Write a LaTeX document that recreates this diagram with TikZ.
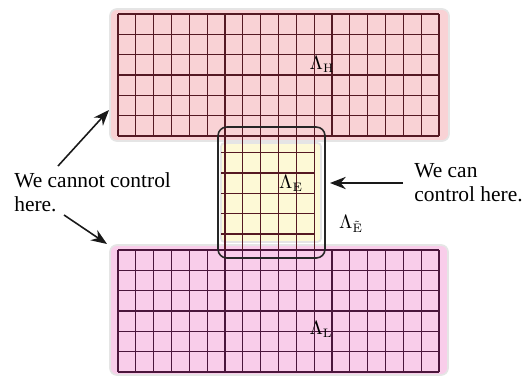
\documentclass[tikz,border=0pt]{standalone}
\usepackage[no-math]{fontspec}
\setmainfont{Liberation Serif}
\usetikzlibrary{arrows.meta}

\definecolor{hpink}{RGB}{249,210,213}
\definecolor{lpink}{RGB}{249,205,234}
\definecolor{eyellow}{RGB}{253,249,214}
\definecolor{hline}{RGB}{85,25,35}
\definecolor{lline}{RGB}{75,22,60}

\begin{document}
\begin{tikzpicture}[
    x=0.02cm, y=-0.02cm,
    >={Stealth[length=9pt, width=7pt]},
    % Styles
    region_fill/.style={draw=gray!20, line width=1pt, rounded corners=4pt},
    grid_h/.style={hline, line width=0.7pt},
    grid_l/.style={lline, line width=0.7pt},
    cell_step/.style={xstep=0.356667cm, ystep=0.406667cm},
    ctrl_box/.style={draw=black!85, line width=0.9pt, rounded corners=5pt},
    lam_label/.style={inner sep=0pt, font=\fontsize{10.5}{12}\selectfont},
    note_text/.style={inner sep=0pt, align=left, anchor=base west,
        font=\fontsize{12.2}{13.3}\selectfont},
    note_arrow/.style={->, line width=0.9pt, black!90}
]
    \useasboundingbox (0,0) rectangle (527,375);

    % ==========================================
    % 1. REGIONS (coloured backgrounds)
    % ==========================================
    \filldraw[region_fill, fill=hpink] (110,9) rectangle (449,141);
    \filldraw[region_fill, fill=lpink] (110,245) rectangle (448,375);
    \filldraw[region_fill, fill=eyellow, rounded corners=2pt] (221,143) rectangle (321,242);

    % ==========================================
    % 2. LATTICES (18 x 6 cells each)
    % ==========================================
    % upper lattice Lambda_H
    \begin{scope}[shift={(118,136)}]
        \draw[grid_h, cell_step] (0cm,0cm) grid (6.424cm,2.444cm);
    \end{scope}

    % lower lattice Lambda_L
    \begin{scope}[shift={(118,372)}]
        \draw[grid_l, cell_step] (0cm,0cm) grid (6.424cm,2.444cm);
    \end{scope}

    % middle lattice Lambda_E
    \foreach \i in {6,...,11}
        \draw[grid_h] ({118+\i*17.833},136) -- ({118+\i*17.833},250);
    \foreach \j in {0,...,4}
        \draw[grid_h] (221,{152.7+\j*20.333}) -- (315,{152.7+\j*20.333});

    % controllable window
    \draw[ctrl_box] (218,127) rectangle (325,258);

    % ==========================================
    % 3. LABELS
    % ==========================================
    \node[lam_label] (lamH) at (322,64) {$\Lambda_{\mathrm{H}}$};
    \node[lam_label] (lamE) at (291,183) {$\Lambda_{\mathrm{E}}$};
    \node[lam_label] (lamEt) at (351,224) {$\Lambda_{\tilde{\mathrm{E}}}$};
    \node[lam_label] (lamL) at (321,329) {$\Lambda_{\mathrm{L}}$};

    % base = baseline of the last line
    \node[note_text] (cannot) at (14,211) {We cannot control\\here.};
    \node[note_text] (can) at (414,201) {We can\\control here.};

    % ==========================================
    % 4. ARROWS
    % ==========================================
    \coordinate (upStart) at (58,166);
    \coordinate (upTip) at (109,110);
    \coordinate (downStart) at (64,215);
    \coordinate (downTip) at (107,244);
    \coordinate (canStart) at (403,183);
    \coordinate (canTip) at (330,183);

    \draw[note_arrow] (upStart) -- (upTip);
    \draw[note_arrow] (downStart) -- (downTip);
    \draw[note_arrow] (canStart) -- (canTip);

\end{tikzpicture}
\end{document}
